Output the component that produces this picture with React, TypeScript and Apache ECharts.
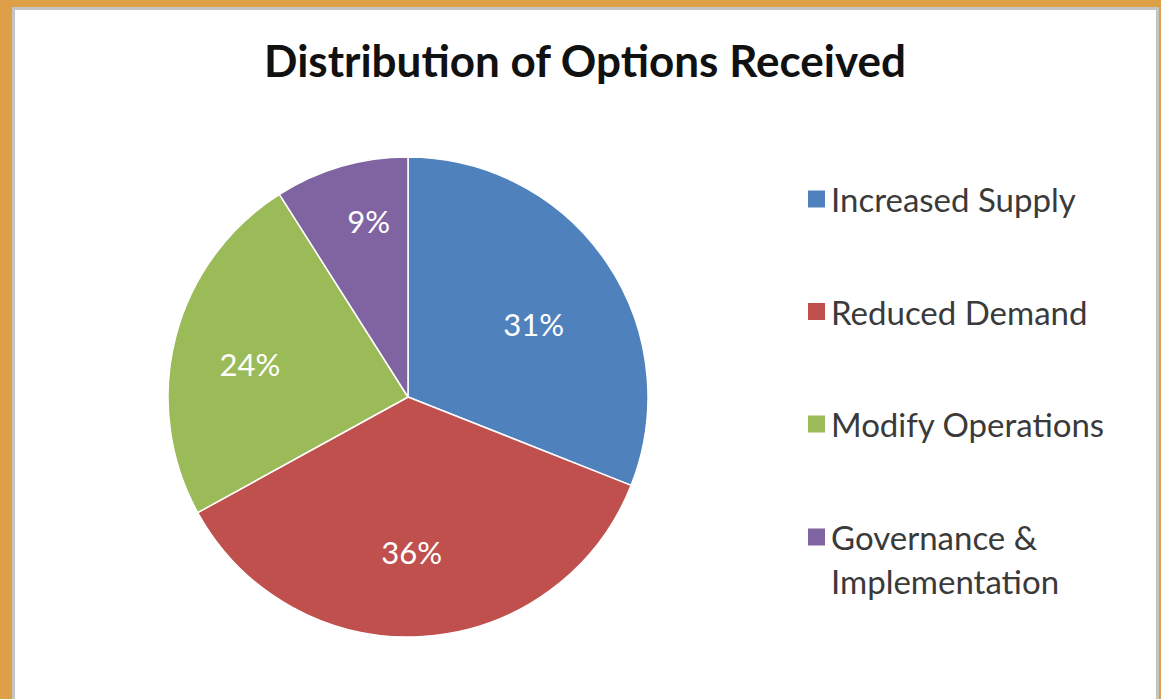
import React, { useEffect, useRef } from "react";
import * as echarts from "echarts";

const categories = ["Increased Supply", "Reduced Demand", "Modify Operations", "Governance & Implementation"];
const values = [31, 36, 24, 9];
const colors = ["#4F81BD", "#C0504D", "#9BBB59", "#8064A2"];
const titleText = "Distribution of Options Received";

const W = 1161;
const H = 699;
const CX = 408;
const CY = 397;
const R = 240;
const FONT = "Lato, 'Open Sans', sans-serif";
// label nudges (px) from the default inside position, per slice
const LABEL_NUDGE = [
  [24, -4],
  [-4, 32],
  [-39, -2],
  [-5, -58],
];

export default function App() {
  const ref = useRef<HTMLDivElement>(null);
  useEffect(() => {
    document.body.style.margin = "0";
    const chart = echarts.init(ref.current!, undefined, { renderer: "svg" });
    const legendText = {
      color: "#3a3a3a",
      fontSize: 33,
      lineHeight: 40,
      fontFamily: FONT,
    };
    chart.setOption({
      animation: false,
      backgroundColor: "#DDA047",
      color: colors,
      graphic: [
        {
          type: "rect",
          z: -10,
          shape: { x: 13.5, y: 8.5, width: 1144, height: 740 },
          style: { fill: "#ffffff", stroke: "#c4c4c4", lineWidth: 3 },
        },
      ],
      title: {
        text: titleText,
        left: 585,
        top: 35,
        padding: 0,
        textAlign: "center",
        textStyle: {
          fontFamily: FONT,
          fontWeight: "bold",
          fontSize: 44,
          lineHeight: 50,
          color: "#111111",
        },
      },
      legend: [
        {
          orient: "vertical",
          left: 806,
          top: 179,
          padding: 0,
          itemGap: 72.5,
          itemWidth: 19,
          itemHeight: 19,
          icon: "rect",
          selectedMode: false,
          data: categories.slice(0, 3),
          textStyle: legendText,
        },
        {
          orient: "vertical",
          left: 806,
          top: 471,
          padding: 0,
          itemWidth: 19,
          itemHeight: 19,
          icon: "rect",
          selectedMode: false,
          data: categories.slice(3),
          formatter: (n: string) => " \n" + n.replace("& ", "&\n"),
          textStyle: { ...legendText, lineHeight: 44 },
        },
      ],
      series: [
        {
          type: "pie",
          center: [CX, CY],
          radius: [0, R],
          startAngle: 90,
          clockwise: true,
          silent: true,
          itemStyle: { borderColor: "#ffffff", borderWidth: 1.5 },
          label: {
            show: true,
            position: "inside",
            formatter: "{c}%",
            color: "#ffffff",
            fontSize: 31,
            fontFamily: FONT,
          },
          labelLine: { show: false },
          labelLayout: (p: any) => {
            const n = LABEL_NUDGE[p.dataIndex] || [0, 0];
            return { dx: n[0], dy: n[1] };
          },
          data: categories.map((name, i) => ({ name, value: values[i] })),
        },
      ],
    });
    return () => chart.dispose();
  }, []);
  return <div ref={ref} style={{ width: W, height: H, position: "fixed", left: 0, top: 0 }} />;
}
